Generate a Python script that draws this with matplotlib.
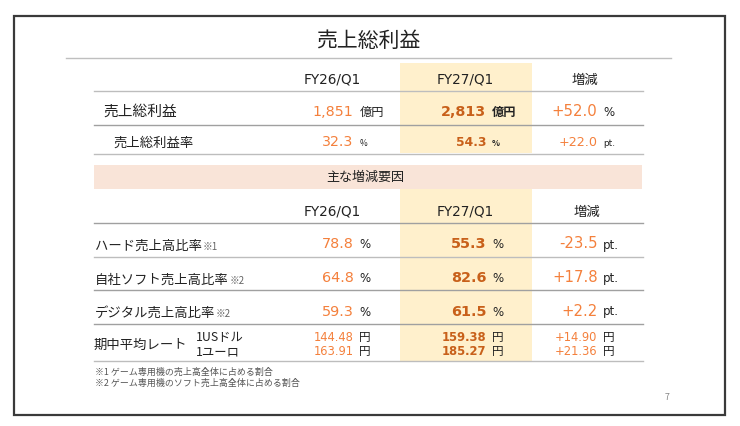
import matplotlib
matplotlib.use("Agg")
import matplotlib.pyplot as plt
from matplotlib.patches import Rectangle

FONT = ['DejaVu Sans', 'Noto Sans CJK JP']
CJK = ['Noto Sans CJK JP', 'DejaVu Sans']
plt.rcParams['font.family'] = FONT

title = "売上総利益"
banner = "主な増減要因"
headers = ["FY26/Q1", "FY27/Q1", "増減"]

top_labels = ["売上総利益", "売上総利益率"]
top_fy26 = ["1,851", "32.3"]
top_fy27 = ["2,813", "54.3"]
top_diff = ["+52.0", "+22.0"]
top_units = ["億円", "%"]
top_diff_units = ["%", "pt."]

factor_labels = ["ハード売上高比率", "自社ソフト売上高比率", "デジタル売上高比率"]
factor_notes = ["※1", "※2", "※2"]
factor_fy26 = ["78.8", "64.8", "59.3"]
factor_fy27 = ["55.3", "82.6", "61.5"]
factor_diff = ["-23.5", "+17.8", "+2.2"]

rate_title = "期中平均レート"
rate_labels = ["1USドル", "1ユーロ"]
rate_fy26 = ["144.48", "163.91"]
rate_fy27 = ["159.38", "185.27"]
rate_diff = ["+14.90", "+21.36"]

notes = ["※1 ゲーム専用機の売上高全体に占める割合", "※2 ゲーム専用機のソフト売上高全体に占める割合"]
page = "7"

ORANGE = "#F4803C"
DARK = "#C8601A"
BLACK = "#222222"

fig = plt.figure(figsize=(7.4, 4.26), dpi=100)
ax = fig.add_axes([0, 0, 1, 1])
ax.set_xlim(0, 740)
ax.set_ylim(426, 0)
ax.axis("off")


def T(x, y, s, size, color=BLACK, ha="left", weight="normal", family=CJK):
    ax.text(x, y, s, fontsize=size, color=color, ha=ha, va="baseline",
            fontweight=weight, family=family)


ax.add_patch(Rectangle((13.5, 16), 711, 399, fill=False, ec="#3a3a3a", lw=1.6))
ax.add_patch(Rectangle((399.5, 63), 132, 90, fc="#FFF0CC", ec="none"))
ax.add_patch(Rectangle((399.5, 189), 132, 172, fc="#FFF0CC", ec="none"))
ax.add_patch(Rectangle((94, 165), 548, 24, fc="#F9E4D8", ec="none"))

ax.plot([66, 671], [57.5, 57.5], color="#BFBFBF", lw=1)
for y, c in [(90.5, "#BDBDBD"), (124.5, "#A0A0A0"), (153.5, "#BDBDBD"),
             (222.5, "#A0A0A0"), (256.5, "#BDBDBD"), (289.5, "#A0A0A0"),
             (323.5, "#A0A0A0"), (361, "#BDBDBD")]:
    ax.plot([94, 643], [y, y], color=c, lw=1)

T(368.5, 46.5, title, 15, ha="center")
T(365.5, 181, banner, 9.4, ha="center")

for yh in (83.5, 215.5):
    T(332.5, yh, headers[0], 9.8, ha="center", family=FONT)
    T(465, yh, headers[1], 9.8, ha="center", family=FONT)
for yh, xh in ((84, 585), (216, 587)):
    T(xh, yh, headers[2], 9.6, ha="center")

X1, X2, X3 = 353.5, 486.5, 597.5
U1, U2, U3 = 359.5, 492, 603

# upper block
T(103, 116, top_labels[0], 10.6)
T(113, 147, top_labels[1], 9.6)
ys = [116, 146.5]
big = [10.3, 10.2]
bigb = [10.3, 8.9]
uni = [8.8, 6]
for i, y in enumerate(ys):
    T(X1, y, top_fy26[i], big[i], ORANGE, "right", family=FONT)
    T(U1, y, top_units[i], uni[i])
    T(X2, y, top_fy27[i], bigb[i], DARK, "right", "bold", family=FONT)
    T(U2, y, top_units[i], uni[i], weight="bold")
    T(X3, y, top_diff[i], 10.7 if i == 0 else 9.2, ORANGE, "right", family=FONT)
    T(U3, y, top_diff_units[i], 8.5 if i == 0 else 6.4, family=FONT)

# factor block
ys = [248.5, 282, 315.5]
ly = [250, 283.5, 317]
for i, y in enumerate(ys):
    t = ax.text(95, ly[i], factor_labels[i], fontsize=9.6, color=BLACK, family=CJK, va="baseline")
    fig.canvas.draw()
    bb = t.get_window_extent()
    T(bb.x1 + 0.5, ly[i], factor_notes[i], 7, "#666666")
    T(X1, y, factor_fy26[i], 10.4, ORANGE, "right", family=FONT)
    T(U1, y, "%", 8.5, family=FONT)
    T(X2, y, factor_fy27[i], 10.4, DARK, "right", "bold", family=FONT)
    T(U2, y, "%", 8.5, family=FONT)
    T(X3, y, factor_diff[i], 10.7, ORANGE, "right", family=FONT)
    T(U3, y, "pt.", 8.5, family=FONT)

# rates block
T(94, 349, rate_title, 9.6)
ys = [341, 355]
for i, y in enumerate(ys):
    T(196, y, rate_labels[i], 8.9)
    T(X1, y, rate_fy26[i], 8.3, ORANGE, "right", family=FONT)
    T(U1, y, "円", 8.4)
    T(X2, y, rate_fy27[i], 8.4, DARK, "right", "bold", family=FONT)
    T(U2, y, "円", 8.4)
    T(X3, y, rate_diff[i], 8.3, ORANGE, "right", family=FONT)
    T(U3, y, "円", 8.4)

T(95, 375, notes[0], 6.45, "#555555")
T(95, 386, notes[1], 6.45, "#555555")
T(667, 400, page, 6.4, "#888888", ha="center")

fig.savefig("out.png", dpi=100)
